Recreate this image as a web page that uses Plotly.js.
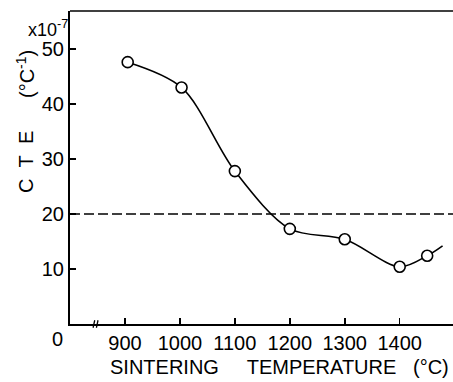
<!DOCTYPE html>
<html>
<head>
<meta charset="utf-8">
<script src="https://cdn.plot.ly/plotly-3.0.1.min.js"></script>
<style>html,body{margin:0;padding:0;background:#fff;}#chart{width:453px;height:382px;}</style>
</head>
<body>
<div id="chart"></div>
<script>
// Sintering temperature (°C) and CTE (x10^-7 /°C)
var temps = [905, 1003, 1100, 1200, 1300, 1400, 1450];
var cte = [47.6, 43.0, 27.8, 17.3, 15.4, 10.4, 12.4];
// smooth curve continues slightly beyond the last measured point
var curveEndTemp = [1478];
var curveEndCte = [14.2];
var refLevel = 20;
var xTicks = [900, 1000, 1100, 1200, 1300, 1400];
var xTickText = ['900', '1000', '1100', '1200', '1300', '1400'];
var yTicks = [10, 20, 30, 40, 50];
var yTickText = ['10', '20', '30', '40', '50'];

var font = 'Liberation Sans, Arial, sans-serif';
var NB = '\u00A0';

var traces = [
  {
    x: temps.concat(curveEndTemp),
    y: cte.concat(curveEndCte),
    mode: 'lines',
    line: {shape: 'spline', smoothing: 0.9, color: '#000', width: 1.6},
    hoverinfo: 'skip',
    showlegend: false
  },
  {
    x: temps,
    y: cte,
    mode: 'markers',
    marker: {symbol: 'circle', size: 11, color: '#fff', line: {color: '#000', width: 1.6}},
    showlegend: false
  }
];

var layout = {
  width: 453, height: 382,
  margin: {l: 70, r: 0, t: 11, b: 58, pad: 0},
  paper_bgcolor: '#fff', plot_bgcolor: '#fff',
  font: {family: font, size: 20, color: '#000'},
  showlegend: false,
  xaxis: {
    range: [800, 1497], tickvals: xTicks, ticktext: xTickText,
    ticks: 'inside', ticklen: 6, tickwidth: 1.5, tickcolor: '#000',
    showline: true, linecolor: '#000', linewidth: 2,
    showgrid: false, zeroline: false, fixedrange: true,
    tickfont: {family: font, size: 20, color: '#000'}
  },
  yaxis: {
    range: [0, 56.9], tickvals: yTicks, ticktext: yTickText,
    ticks: 'inside', ticklen: 6, tickwidth: 1.5, tickcolor: '#000',
    showline: true, linecolor: '#000', linewidth: 2,
    showgrid: false, zeroline: false, fixedrange: true,
    tickfont: {family: font, size: 20, color: '#000'}
  },
  shapes: [
    {type: 'line', xref: 'paper', yref: 'paper', x0: 0, x1: 1, y0: 1, y1: 1,
     line: {color: '#000', width: 1.5}},
    {type: 'line', xref: 'paper', yref: 'y', x0: 0, x1: 1, y0: refLevel, y1: refLevel,
     line: {color: '#000', width: 1.5, dash: '10px,4px'}},
    {type: 'line', xref: 'x', yref: 'paper', x0: 842, x1: 845, y0: -0.012, y1: 0.012,
     line: {color: '#000', width: 1.3}},
    {type: 'line', xref: 'x', yref: 'paper', x0: 848, x1: 851, y0: -0.012, y1: 0.012,
     line: {color: '#000', width: 1.3}}
  ],
  annotations: [
    {xref: 'paper', yref: 'paper', x: (57 - 70) / 383, y: (324 - 339) / 313,
     text: '0', showarrow: false, xanchor: 'center', yanchor: 'middle',
     font: {family: font, size: 20, color: '#000'}},
    {xref: 'paper', yref: 'paper', x: (279 - 70) / 383, y: (324 - 367) / 313,
     text: 'SINTERING' + NB + NB + NB + NB + NB + 'TEMPERATURE' + NB + NB + NB + '(°C)',
     showarrow: false, xanchor: 'center', yanchor: 'middle',
     font: {family: font, size: 20, color: '#000'}},
    {xref: 'paper', yref: 'paper', x: (26 - 70) / 383, y: (324 - 162) / 313,
     text: 'C' + NB + NB + 'T' + NB + NB + 'E', textangle: -90,
     showarrow: false, xanchor: 'center', yanchor: 'middle',
     font: {family: font, size: 20, color: '#000'}},
    {xref: 'paper', yref: 'paper', x: (26 - 70) / 383, y: (324 - 74) / 313,
     text: '(°C<sup>-1</sup>)', textangle: -90,
     showarrow: false, xanchor: 'center', yanchor: 'middle',
     font: {family: font, size: 20, color: '#000'}},
    {xref: 'paper', yref: 'paper', x: (26 - 70) / 383, y: (324 - 28) / 313,
     text: 'x10<sup>-7</sup>',
     showarrow: false, xanchor: 'left', yanchor: 'middle',
     font: {family: font, size: 18, color: '#000'}}
  ]
};

Plotly.newPlot('chart', traces, layout, {displayModeBar: false, staticPlot: true});
</script>
</body>
</html>
